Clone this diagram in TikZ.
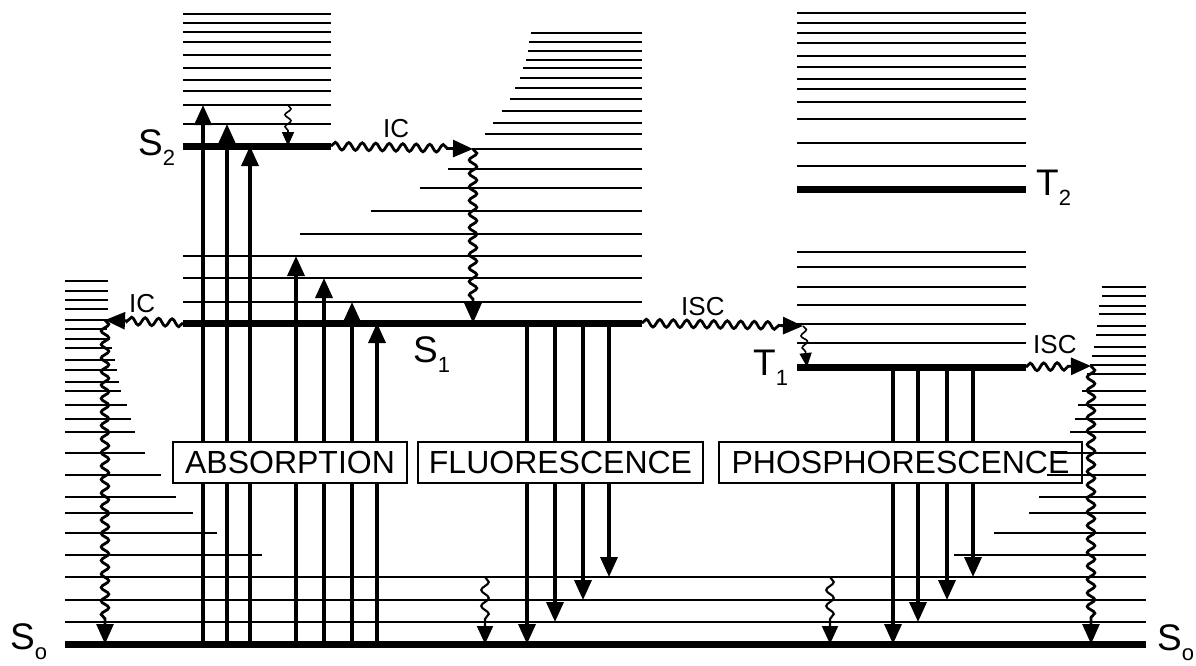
\documentclass[tikz,border=0pt]{standalone}
\usepackage{fontspec}
\setmainfont{Liberation Sans}
\usetikzlibrary{arrows.meta, decorations.pathmorphing}

\newcommand{\lvl}[2]{#1\raisebox{-10pt}{\fontsize{22}{22}\selectfont #2}}

\begin{document}
\begin{tikzpicture}[x=1pt, y=-1pt,
  level/.style={line width=7pt},
  sublevel/.style={line width=2.8pt},
  photon/.style={line width=3.5pt, -{Triangle[width=17pt,length=20pt]}},
  wiggle/.style={line width=2.8pt, decorate,
    decoration={snake, segment length=13.5pt, amplitude=3.8pt, post length=22pt},
    -{Triangle[width=17pt,length=20pt]}},
  shortwiggle/.style={line width=2.1pt, decorate,
    decoration={snake, segment length=16pt, amplitude=3.8pt, post length=20pt},
    -{Triangle[width=16pt,length=18pt]}},
  tinywiggle/.style={line width=1.6pt, decorate,
    decoration={snake, segment length=12pt, amplitude=3pt, post length=15pt},
    -{Triangle[width=12pt,length=14pt]}},
  labelbox/.style={draw, fill=white, line width=1.7pt, inner sep=0pt,
    minimum height=41pt, font=\fontsize{32}{32}\selectfont},
  lvlfont/.style={anchor=base west, inner sep=0pt, font=\fontsize{37}{37}\selectfont},
  tagfont/.style={anchor=base west, inner sep=0pt, font=\fontsize{26}{26}\selectfont}]
  \useasboundingbox (0,0) rectangle (1196,665);

  \coordinate (S2r) at (331,146);
  \coordinate (ICa) at (473,149);
  \coordinate (S1a) at (473,323);
  \coordinate (S1l) at (183,323);
  \coordinate (ICb) at (105,320);
  \coordinate (S0b) at (105,644);
  \coordinate (S1r) at (642,323);
  \coordinate (ISCa) at (803,326);
  \coordinate (T1a) at (807,367);
  \coordinate (T1r) at (1026,367);
  \coordinate (ISCb) at (1091,366);
  \coordinate (S0c) at (1091,644);

  % ground state S0
  \draw[level] (65,644) -- (1146,644);
  \foreach \y in {577,600,622}
    \draw[sublevel] (65,\y) -- (1146,\y);
  \foreach \y/\xr in {555/262, 533/217, 513/193, 497/176, 475/161, 453/145,
      432/135, 419/131, 405/127, 391/121, 382/119, 370/117, 360/115, 348/112,
      339/110, 329/107, 320/107, 309/108, 300/108, 291/108, 281/108}
    \draw[sublevel] (65,\y) -- (\xr,\y);

  % S1 and S2
  \draw[level] (S1l) -- (S1r);
  \foreach \y/\xl in {302/183, 278/183, 256/183, 234/300, 211/371, 188/420,
      169/448, 149/472, 134/485, 123/493, 111/502, 99/510, 88/515, 78/520,
      68/523, 60/526, 51/528, 42/529, 33/531}
    \draw[sublevel] (\xl,\y) -- (642,\y);
  \draw[level] (183,146) -- (S2r);
  \foreach \y in {14,23,32,42,55,68,80,91,105,124}
    \draw[sublevel] (183,\y) -- (331,\y);

  % triplets
  \draw[level] (797,367) -- (T1r);
  \draw[level] (797,189) -- (1026,189);
  \foreach \y in {13,23,33,43,56,67,79,89,102,119,143,166,252,267,287,305,324,343}
    \draw[sublevel] (797,\y) -- (1026,\y);

  % radiative transitions
  \foreach \x/\y in {203/105, 227/124, 250/146, 296/256, 324/278, 352/302, 377/323}
    \draw[photon] (\x,644) -- (\x,\y);
  \foreach \x/\y in {527/644, 555/622, 583/600, 609/577}
    \draw[photon] (\x,323) -- (\x,\y);
  \foreach \x/\y in {893/644, 918/622, 947/600, 973/577}
    \draw[photon] (\x,367) -- (\x,\y);

  % non-radiative transitions
  \draw[wiggle] (S2r) -- (ICa);
  \draw[wiggle] (ICa) -- (S1a);
  \draw[wiggle] (S1l) -- (ICb);
  \draw[wiggle] (ICb) -- (S0b);
  \draw[wiggle] (S1r) -- (ISCa);
  \draw[tinywiggle] (ISCa) -- (T1a);
  \draw[tinywiggle] (288,105) -- (288,146);
  \draw[shortwiggle] (485,577) -- (485,644);
  \draw[shortwiggle] (830,577) -- (830,644);
  \draw[wiggle] (T1r) -- (ISCb);

  \node[tagfont] (icup) at (383,137) {IC};
  \node[tagfont] (icleft) at (129,312) {IC};
  \node[tagfont] (iscmid) at (681,315) {ISC};
  \node[tagfont] (iscright) at (1033,353) {ISC};

  \node[labelbox, minimum width=234pt] (absbox) at (290,462.5) {ABSORPTION};
  \node[labelbox, minimum width=285pt] (flubox) at (560.5,462.5) {FLUORESCENCE};
  \node[labelbox, minimum width=363pt] (phobox) at (900.5,462.5) {PHOSPHORESCENCE};

  % S0 ladder on the right, over the box
  \foreach \y/\xl in {287/1102, 296/1102, 306/1099, 314/1099, 326/1097, 335/1096,
      347/1094, 356/1092, 365/1090, 374/1087, 391/1082, 405/1078, 419/1075,
      432/1070, 453/1055, 475/1047, 497/1039, 513/1029, 533/994, 555/954}
    \draw[sublevel] (\xl,\y) -- (1146,\y);
  \draw[wiggle] (ISCb) -- (S0c);

  \node[lvlfont] (s2lab) at (138,155) {\lvl{S}{2}};
  \node[lvlfont] (s1lab) at (413,362) {\lvl{S}{1}};
  \node[lvlfont] (t1lab) at (753,375) {\lvl{T}{1}};
  \node[lvlfont] (t2lab) at (1036,195) {\lvl{T}{2}};
  \node[lvlfont] (s0left) at (10,649) {\lvl{S}{o}};
  \node[lvlfont] (s0right) at (1157,650) {\lvl{S}{o}};
\end{tikzpicture}
\end{document}
